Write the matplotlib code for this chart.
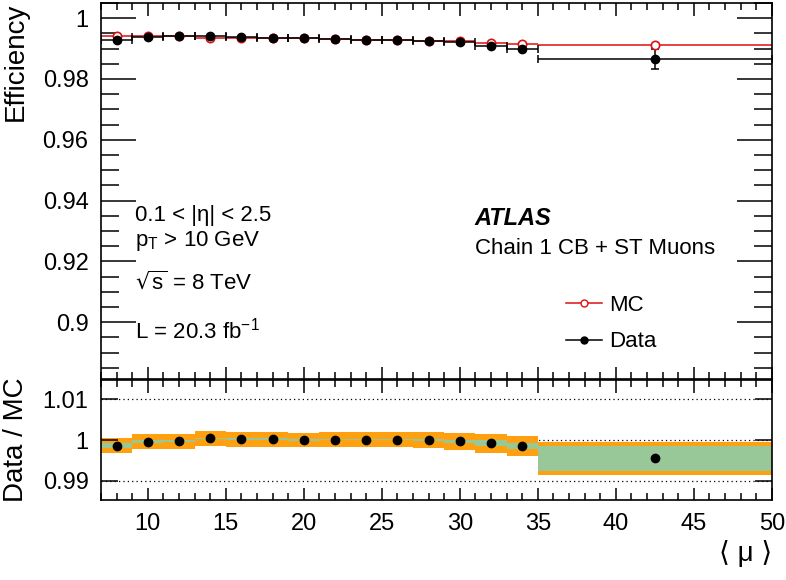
import numpy as np
import matplotlib
matplotlib.use('agg')
import matplotlib.pyplot as plt
from matplotlib.ticker import MultipleLocator
from matplotlib.lines import Line2D

plt.rcParams['font.family'] = ['Liberation Sans', 'DejaVu Sans']

# bins in <mu>
bin_lo = [7, 9, 11, 13, 15, 17, 19, 21, 23, 25, 27, 29, 31, 33, 35]
bin_hi = [9, 11, 13, 15, 17, 19, 21, 23, 25, 27, 29, 31, 33, 35, 50]
bin_mid = [8, 10, 12, 14, 16, 18, 20, 22, 24, 26, 28, 30, 32, 34, 42.5]

eff_mc = [0.9943, 0.9940, 0.9941, 0.9935, 0.9935, 0.9935, 0.9934, 0.9931,
          0.9929, 0.9928, 0.9924, 0.9924, 0.9918, 0.9916, 0.9912]
eff_data = [0.9928, 0.9938, 0.9940, 0.9941, 0.9937, 0.9936, 0.9934, 0.9931,
            0.9929, 0.9927, 0.9924, 0.9922, 0.9910, 0.9900, 0.9866]
err_data = [0.0002, 0.0001, 0.0001, 0.0001, 0.0001, 0.0001, 0.0001, 0.0001,
            0.0001, 0.0001, 0.0001, 0.0002, 0.0003, 0.0004, 0.0032]

ratio = [0.9986, 0.9996, 0.9997, 1.0004, 1.0002, 1.0002, 1.0000, 1.0001,
         1.0001, 1.0001, 1.0000, 0.9997, 0.9992, 0.9985, 0.9955]
ratio_stat = [0.0006, 0.0003, 0.0002, 0.0002, 0.0002, 0.0002, 0.0002, 0.0002,
              0.0002, 0.0002, 0.0003, 0.0004, 0.0007, 0.0008, 0.0030]
ratio_tot = [0.0018, 0.0018, 0.0018, 0.0018, 0.0018, 0.0018, 0.0018, 0.0018,
             0.0018, 0.0018, 0.0019, 0.0021, 0.0023, 0.0025, 0.0041]

mid = np.array(bin_mid)
lo = np.array(bin_lo)
hi = np.array(bin_hi)
xerr = [mid - lo, hi - mid]

fig = plt.figure(figsize=(7.86, 5.8), dpi=100)
ax = fig.add_axes([0.1285, 0.3466, 0.8535, 0.6482])
rx = fig.add_axes([0.1285, 0.1379, 0.8535, 0.2069])

red = '#dd1010'
orange = '#ffa010'
green = '#98c898'

# top panel
ax.errorbar(mid, eff_mc, xerr=xerr, fmt='o', color=red,
            mfc='white', mec=red, ms=6, mew=1.2, lw=1.1, capsize=0)
ax.errorbar(mid, eff_data, xerr=xerr, yerr=err_data, fmt='o',
            color='black', ms=6, lw=1.1, capsize=3, capthick=1.1)

ax.set_xlim(7, 50)
ax.set_ylim(0.8813, 1.005)
ax.yaxis.set_minor_locator(MultipleLocator(0.005))
ax.xaxis.set_major_locator(MultipleLocator(5))
ax.xaxis.set_minor_locator(MultipleLocator(1))
ax.set_yticks([0.9, 0.92, 0.94, 0.96, 0.98, 1.0])
ax.set_yticklabels(['0.9', '0.92', '0.94', '0.96', '0.98', '1'])
ax.tick_params(axis='x', which='both', labelbottom=False)
ax.tick_params(which='both', direction='in', top=True, right=True, width=1.1)
ax.tick_params(axis='y', which='major', length=25, labelsize=17, pad=9)
ax.tick_params(axis='y', which='minor', length=13)
ax.tick_params(axis='x', which='major', length=9)
ax.tick_params(axis='x', which='minor', length=5)
ax.set_ylabel('Efficiency', fontsize=20, loc='top')
ax.yaxis.set_label_coords(-0.108, 1.0)
for s in ax.spines.values():
    s.set_linewidth(1.2)

fs = 16
ax.text(0.0507, 0.4335, '0.1 < |η| < 2.5', transform=ax.transAxes,
        fontsize=fs, va='center')
ax.text(0.0507, 0.367, r'p$_{\mathregular{T}}$ > 10 GeV', transform=ax.transAxes,
        fontsize=fs, va='center')
ax.text(0.0507, 0.258, r'$\sqrt{\mathregular{s}}$ = 8 TeV', transform=ax.transAxes,
        fontsize=fs, va='center')
ax.text(0.0507, 0.130, r'L = 20.3 fb$^{\mathregular{-1}}$', transform=ax.transAxes,
        fontsize=fs, va='center')
ax.text(0.557, 0.428, 'ATLAS', transform=ax.transAxes, fontsize=17,
        fontweight='bold', fontstyle='italic', va='center')
ax.text(0.557, 0.346, 'Chain 1 CB + ST Muons', transform=ax.transAxes,
        fontsize=fs, va='center')

handles = [Line2D([], [], color=red, marker='o', mfc='white', mec=red,
                  ms=5, lw=1.1),
           Line2D([], [], color='black', marker='o', ms=5, lw=1.1)]
ax.legend(handles, ['MC', 'Data'], loc='center left',
          bbox_to_anchor=(0.677, 0.147), frameon=False, fontsize=fs,
          handlelength=1.6, handletextpad=0.35, labelspacing=0.7,
          borderpad=0)

# ratio panel
for yv in [0.99, 1.0, 1.01]:
    rx.axhline(yv, color='black', ls=(0, (1, 2.5)), lw=0.9, zorder=0)
r = np.array(ratio)
rt = np.array(ratio_tot)
rs = np.array(ratio_stat)
for i in range(len(mid)):
    rx.fill_between([lo[i], hi[i]], r[i] - rt[i], r[i] + rt[i],
                    color=orange, lw=0, zorder=1)
    rx.fill_between([lo[i], hi[i]], r[i] - rs[i], r[i] + rs[i],
                    color=green, lw=0, zorder=2)
rx.plot(mid, r, 'o', color='black', ms=6, zorder=3)

rx.set_xlim(7, 50)
rx.set_ylim(0.9853, 1.0147)
rx.set_yticks([0.99, 1.0, 1.01])
rx.set_yticklabels(['0.99', '1', '1.01'])
rx.xaxis.set_minor_locator(MultipleLocator(1))
rx.set_xticks([10, 15, 20, 25, 30, 35, 40, 45, 50])
rx.tick_params(which='both', direction='in', top=True, right=True, width=1.1)
rx.tick_params(axis='y', which='major', length=12, labelsize=17, pad=9)
rx.tick_params(axis='x', which='major', length=9, labelsize=17, pad=9)
rx.tick_params(axis='x', which='minor', length=5)
rx.set_ylabel('Data / MC', fontsize=20)
rx.yaxis.set_label_coords(-0.108, 0.5)
rx.set_xlabel('⟨ μ ⟩', fontsize=20, loc='right')
for s in rx.spines.values():
    s.set_linewidth(1.2)

fig.savefig('out.png', dpi=100)
